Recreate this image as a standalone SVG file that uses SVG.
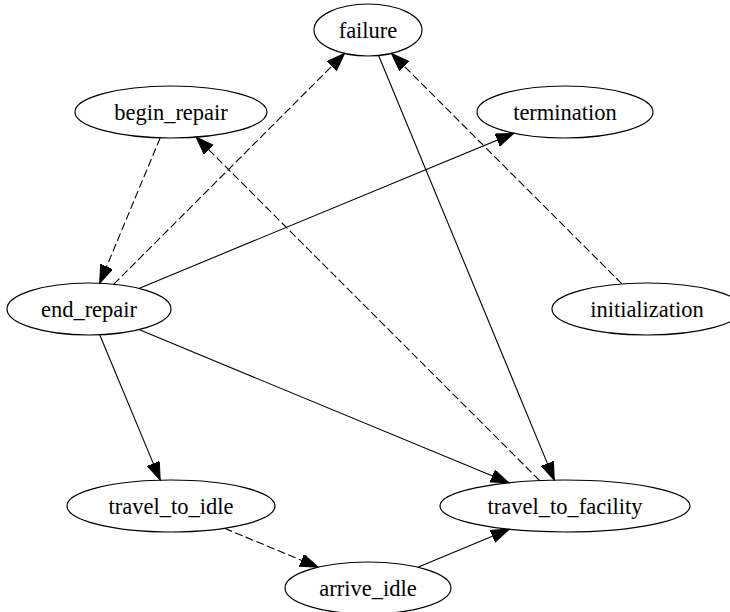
<svg xmlns="http://www.w3.org/2000/svg" width="730" height="612" viewBox="0 0 730 612">
<style>
.node ellipse{fill:none;stroke:#000;stroke-width:1.2}
.node text{font-family:'Liberation Serif','DejaVu Serif',serif;font-size:22.5px;text-anchor:middle;fill:#000}
.edge{stroke:#000;stroke-width:1.1;fill:none;marker-end:url(#arr)}
.dash{stroke-dasharray:8,3.5}
</style>
<defs>
<marker id="arr" markerUnits="userSpaceOnUse" markerWidth="19" markerHeight="14" refX="18" refY="6.5" orient="auto">
<path d="M0,0 L18,6.5 L0,13 z" fill="#000" stroke="#000" stroke-width="1"/>
</marker>
</defs>
<rect width="730" height="612" fill="#fff"/>
<g id="connectors">
<line class="edge dash" x1="113.8" y1="284.2" x2="344.6" y2="53.4"/>
<line class="edge dash" x1="160.2" y1="137.8" x2="99.7" y2="283.2"/>
<line class="edge dash" x1="539.5" y1="480.5" x2="196.1" y2="137.1"/>
<line class="edge dash" x1="621.9" y1="283.9" x2="391.4" y2="53.4"/>
<line class="edge" x1="378.6" y1="55.5" x2="554.3" y2="480.1"/>
<line class="edge" x1="138.9" y1="288.4" x2="513.9" y2="133.2"/>
<line class="edge" x1="138.9" y1="329.6" x2="508.9" y2="482.8"/>
<line class="edge" x1="99.7" y1="334.8" x2="160.2" y2="480.1"/>
<line class="edge dash" x1="224.5" y1="528.3" x2="318.1" y2="567.2"/>
<line class="edge" x1="417.9" y1="567.2" x2="509.1" y2="529.3"/>
</g>
<g id="failure" class="node"><ellipse cx="368" cy="30" rx="54" ry="26"/><text x="368" y="38" font-family="Liberation Serif, serif">failure</text></g>
<g id="begin_repair" class="node"><ellipse cx="171" cy="112" rx="96" ry="26"/><text x="171" y="120" font-family="Liberation Serif, serif">begin_repair</text></g>
<g id="termination" class="node"><ellipse cx="565" cy="112" rx="88" ry="26"/><text x="565" y="120" font-family="Liberation Serif, serif">termination</text></g>
<g id="end_repair" class="node"><ellipse cx="89" cy="309" rx="82" ry="26"/><text x="89" y="317" font-family="Liberation Serif, serif">end_repair</text></g>
<g id="initialization" class="node"><ellipse cx="647" cy="309" rx="95" ry="26"/><text x="647" y="317" font-family="Liberation Serif, serif">initialization</text></g>
<g id="travel_to_idle" class="node"><ellipse cx="171" cy="506" rx="104" ry="26"/><text x="171" y="514" font-family="Liberation Serif, serif">travel_to_idle</text></g>
<g id="travel_to_facility" class="node"><ellipse cx="565" cy="506" rx="125" ry="26"/><text x="565" y="514" font-family="Liberation Serif, serif">travel_to_facility</text></g>
<g id="arrive_idle" class="node"><ellipse cx="368" cy="588" rx="83" ry="26"/><text x="368" y="596" font-family="Liberation Serif, serif">arrive_idle</text></g>
</svg>
